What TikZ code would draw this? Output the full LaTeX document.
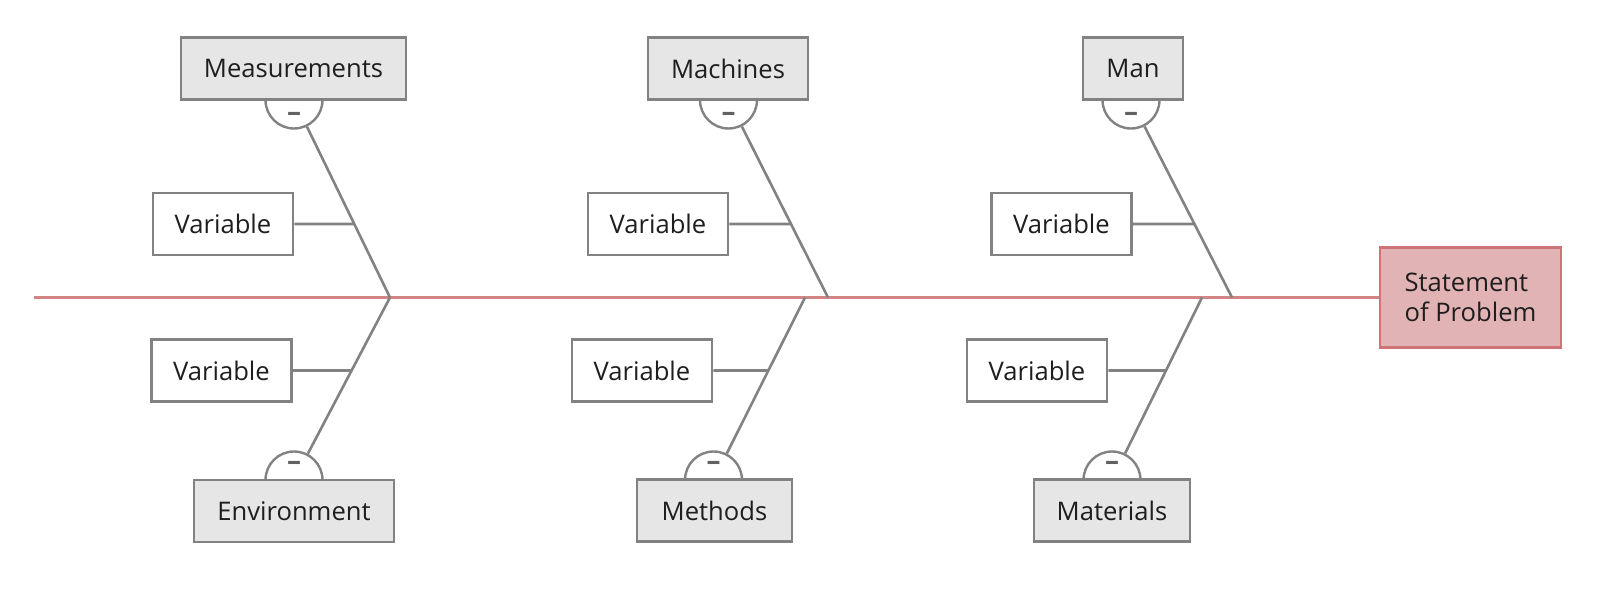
\documentclass[tikz,border=0pt]{standalone}
\usepackage{fontspec}
\setmainfont{Open Sans}
\definecolor{lineGray}{HTML}{828282}
\definecolor{causeFill}{HTML}{E6E6E6}
\definecolor{probFill}{HTML}{E2B3B5}
\definecolor{probEdge}{HTML}{CF7476}
\definecolor{spineRed}{HTML}{D38586}
\definecolor{inkGray}{HTML}{1E1E1E}
\begin{document}
\begin{tikzpicture}[x=0.5pt,y=-0.5pt]
 \tikzstyle{cause}=[rectangle,draw=lineGray,fill=causeFill,line width=1.4pt,minimum height=31pt,inner sep=0pt,text=inkGray,font=\fontsize{12.8}{15}\selectfont]
 \tikzstyle{varbox}=[cause,fill=white,minimum width=70pt]
 \tikzstyle{problem}=[cause,draw=probEdge,fill=probFill,align=left,minimum width=90.5pt,minimum height=50pt]
 \tikzstyle{head}=[circle,draw=lineGray,fill=white,line width=1.2pt,minimum size=28.5pt,inner sep=0pt]
 \tikzstyle{minus}=[inner sep=0pt,text=lineGray!75!black,font=\fontsize{14}{15}\selectfont\bfseries]
 \tikzstyle{bone}=[draw=lineGray,line width=1.3pt]
 \tikzstyle{spine}=[draw=spineRed,line width=1.1pt]
 \useasboundingbox (0,0) rectangle (1600,593);
 % spine and effect
 \coordinate (S0) at (34,297.5);
 \node[problem] (P) at (1470.5,297.5) {Statement\\of Problem};
 \draw[spine] (S0)--(P);
 % junctions on the spine
 \coordinate (J1) at (390,297.5);
 \coordinate (J2) at (828,297.5);
 \coordinate (J3) at (1232,297.5);
 \coordinate (J4) at (390,297.5);
 \coordinate (J5) at (805,297.5);
 \coordinate (J6) at (1202,297.5);
 % heads under the cause boxes
 \node[head] (H1) at (294,100) {};
 \node[head] (H2) at (728.5,100) {};
 \node[head] (H3) at (1131,100) {};
 \node[head] (H4) at (294,480) {};
 \node[head] (H5) at (713.5,480) {};
 \node[head] (H6) at (1112,480) {};
 \node[minus] (D1) at (294,117) {--};
 \node[minus] (D2) at (728.5,117) {--};
 \node[minus] (D3) at (1131,117) {--};
 \node[minus] (D4) at (294,466) {--};
 \node[minus] (D5) at (713.5,466) {--};
 \node[minus] (D6) at (1112,466) {--};
 % causes
 \node[cause,minimum width=112.5pt] (C1) at (293.5,68.5) {Measurements};
 \node[cause,minimum width=80pt] (C2) at (728,68.5) {Machines};
 \node[cause,minimum width=50pt] (C3) at (1133,68.5) {Man};
 \node[cause,minimum width=100pt] (C4) at (294,511) {Environment};
 \node[cause,minimum width=77.5pt] (C5) at (714.5,510.5) {Methods};
 \node[cause,minimum width=78pt] (C6) at (1112,510.5) {Materials};
 % variables
 \node[varbox] (V1) at (223,224) {Variable};
 \node[varbox] (V2) at (658,224) {Variable};
 \node[varbox] (V3) at (1061.5,224) {Variable};
 \node[varbox] (V4) at (221.5,370.5) {Variable};
 \node[varbox] (V5) at (642,370.5) {Variable};
 \node[varbox] (V6) at (1037,370.5) {Variable};
 % bones
 \draw[bone] (J1)--(H1);
 \draw[bone] (J2)--(H2);
 \draw[bone] (J3)--(H3);
 \draw[bone] (J4)--(H4);
 \draw[bone] (J5)--(H5);
 \draw[bone] (J6)--(H6);
 \draw[bone] (V1.east)--(intersection of J1--H1 and V1.east--V1.west);
 \draw[bone] (V2.east)--(intersection of J2--H2 and V2.east--V2.west);
 \draw[bone] (V3.east)--(intersection of J3--H3 and V3.east--V3.west);
 \draw[bone] (V4.east)--(intersection of J4--H4 and V4.east--V4.west);
 \draw[bone] (V5.east)--(intersection of J5--H5 and V5.east--V5.west);
 \draw[bone] (V6.east)--(intersection of J6--H6 and V6.east--V6.west);
\end{tikzpicture}
\end{document}
